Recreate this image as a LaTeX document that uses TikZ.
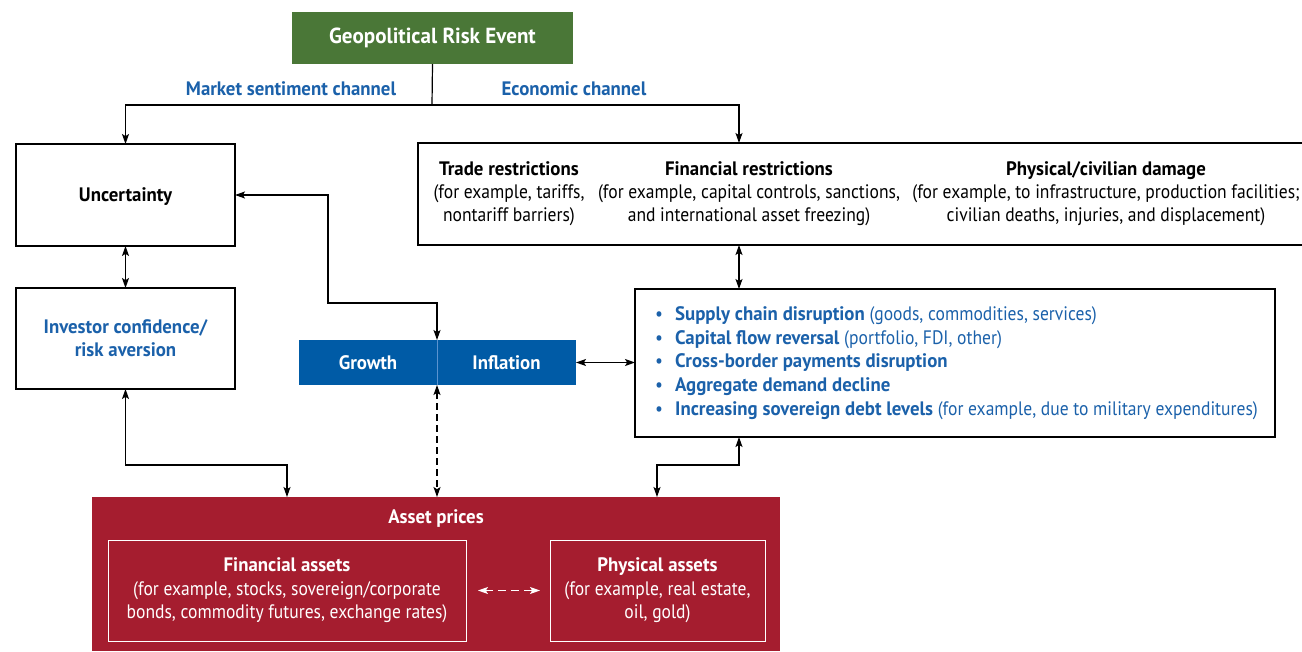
\documentclass[tikz,border=0pt]{standalone}
\usepackage{fontspec}
\setmainfont{PT Sans}[FakeStretch=0.9, BoldFeatures={FakeStretch=0.966}]
\usetikzlibrary{arrows.meta,calc}
\definecolor{imfgreen}{HTML}{4A7737}
\definecolor{imfblue}{HTML}{005BA6}
\definecolor{imfred}{HTML}{A51D2F}
\definecolor{txtblue}{HTML}{1B61AA}
\definecolor{divblue}{HTML}{5A93D0}
\begin{document}
\begin{tikzpicture}[x=1pt,y=-1pt,
  font=\fontsize{19.5}{23}\selectfont,
  box/.style={draw, line width=1.2pt, inner sep=0pt, outer sep=0pt, align=center},
  fillbox/.style={inner sep=0pt, outer sep=0pt, align=center},
  lbl/.style={align=center, inner sep=0pt},
  arr/.style={line width=1.2pt, -{Stealth[length=10pt,width=7pt,inset=2.2pt]}},
  darr/.style={line width=1.2pt, {Stealth[length=10pt,width=7pt,inset=2.2pt]}-{Stealth[length=10pt,width=7pt,inset=2.2pt]}},
  bigbold/.style={font=\fontsize{21.8}{25}\selectfont\bfseries},
  bold/.style={font=\fontsize{19.5}{23}\selectfont\bfseries}
]
\useasboundingbox (0,0) rectangle (1302,651);
\clip (0,0) rectangle (1302,651);

% top
\node[fillbox, fill=imfgreen, text=white, bigbold, minimum width=281pt, minimum height=52pt] (geo) at (432.5,38) {Geopolitical Risk Event};
\node[lbl, text=txtblue, bold] (msc) at (291,89) {Market sentiment channel};
\node[lbl, text=txtblue, bold] (eco) at (574,89) {Economic channel};
\coordinate (split) at (432,105);

% left column
\node[box, minimum width=219pt, minimum height=102pt] (unc) at (125.5,195) {};
\node[lbl, bold] (unct) at (125.5,197) {Uncertainty};
\node[box, minimum width=219pt, minimum height=101pt, bold, text=txtblue] (inv) at (125.5,338.5) {Investor confidence/\\risk aversion};

% growth / inflation
\node[fillbox, fill=imfblue, text=white, bold, minimum width=138pt, minimum height=45pt] (gro) at (368,362.5) {Growth};
\node[fillbox, fill=imfblue, text=white, bold, minimum width=139pt, minimum height=45pt] (inf) at (506.5,362.5) {Inflation};
\draw[divblue, line width=0.8pt] (inf.north west) -- (inf.south west);

% restrictions
\node[box, minimum width=902pt, minimum height=102pt] (restr) at (869,194) {};
\node[lbl] (tr) at (509,194) {\textbf{Trade restrictions}\\(for example, tariffs,\\nontariff barriers)};
\node[lbl] (fr) at (749,194) {\textbf{Financial restrictions}\\(for example, capital controls, sanctions,\\and international asset freezing)};
\node[lbl] (pd) at (1106,194) {\textbf{Physical/civilian damage}\\(for example, to infrastructure, production facilities;\\civilian deaths, injuries, and displacement)};

% bullets
\node[box, minimum width=640pt, minimum height=148pt] (bul) at (955,363) {};
\node[lbl, align=left, anchor=west, text=txtblue, font=\fontsize{19.5}{23.8}\selectfont] (bt) at (655,363) {%
\textbullet\hspace{12pt}\textbf{Supply chain disruption} (goods, commodities, services)\\
\textbullet\hspace{12pt}\textbf{Capital flow reversal} (portfolio, FDI, other)\\
\textbullet\hspace{12pt}\textbf{Cross-border payments disruption}\\
\textbullet\hspace{12pt}\textbf{Aggregate demand decline}\\
\textbullet\hspace{12pt}\textbf{Increasing sovereign debt levels} (for example, due to military expenditures)};

% asset prices
\node[fillbox, fill=imfred, minimum width=688pt, minimum height=154pt] (asset) at (436,574) {};
\node[lbl, text=white, bold] (ap) at (436,519) {Asset prices};
\node[box, draw=white, line width=1pt, text=white, minimum width=358pt, minimum height=101pt, font=\fontsize{19.5}{23.5}\selectfont] (fa) at (287,590.5) {\textbf{Financial assets}\\(for example, stocks, sovereign/corporate\\bonds, commodity futures, exchange rates)};
\node[box, draw=white, line width=1pt, text=white, minimum width=215pt, minimum height=101pt, font=\fontsize{19.5}{23.5}\selectfont] (pa) at (657.5,590.5) {\textbf{Physical assets}\\(for example, real estate,\\oil, gold)};

% connectors
\draw[line width=1.2pt] (geo.south) -- (split);
\draw[arr] (split) -| (unc.north);
\draw[arr] (split) -| ([xshift=321pt]restr.north west);
\draw[darr] (unc) -- (inv);
\draw[darr] (unc.east) -- (328,195) -- (328,303) -| (inf.north west);
\draw[darr] (inf.east) -- (inf.east -| bul.west);
\draw[darr, dash pattern=on 7pt off 4pt] (inf.south west) -- (inf.south west |- asset.north);
\draw[darr] ([xshift=321pt]restr.south west) -- ([xshift=104pt]bul.north west);
\draw[darr] (inv.south) |- (287,465) -| ([xshift=195pt]asset.north west);
\draw[darr] ([xshift=104pt]bul.south west) |- (657,465) -| ([xshift=565pt]asset.north west);
\draw[darr, white, line width=1pt, dash pattern=on 8pt off 5pt, shorten <=12pt, shorten >=10pt] (fa.east) -- (pa.west);
\end{tikzpicture}
\end{document}
